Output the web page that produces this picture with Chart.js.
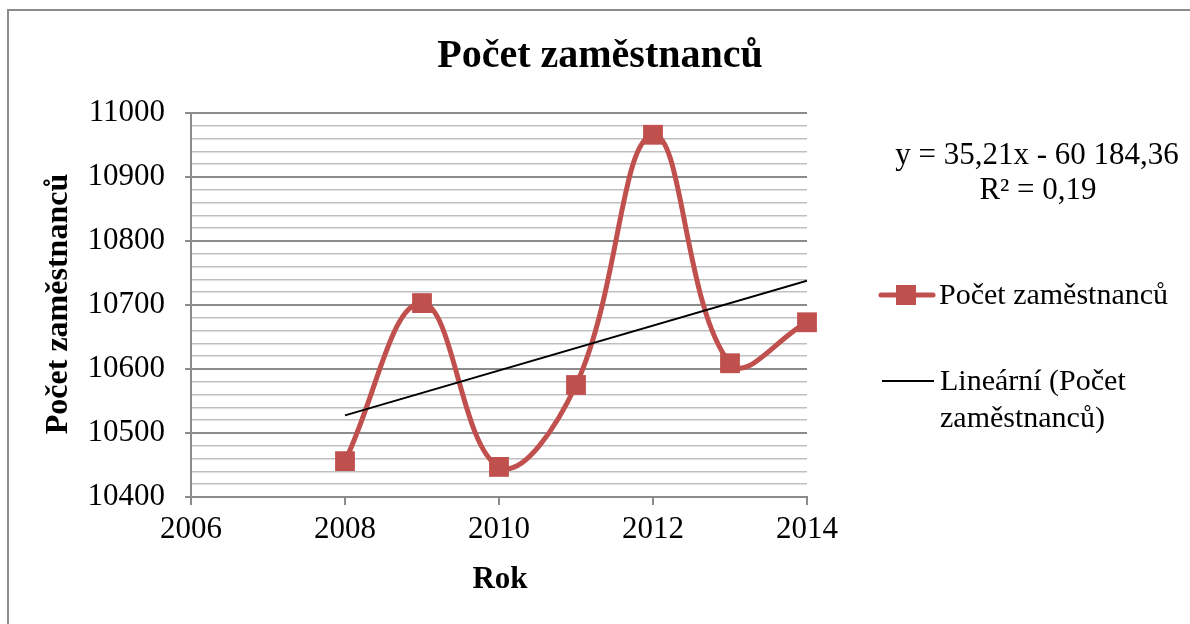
<!DOCTYPE html>
<html>
<head>
<meta charset="utf-8">
<script src="https://cdn.jsdelivr.net/npm/chart.js@4.4.1/dist/chart.umd.min.js"></script>
<style>
  body { margin: 0; background: #fff; }
  #wrap { width: 1190px; height: 624px; }
</style>
</head>
<body>
<div id="wrap"><canvas id="zamChart" width="1190" height="624"></canvas></div>
<script>
// roky a počty zaměstnanců
var years = [2008, 2009, 2010, 2011, 2012, 2013, 2014];
var employees = [10456, 10703, 10447, 10575, 10966, 10609, 10673];
// popisky
var chartTitle = "Počet zaměstnanců";
var yTitle = "Počet zaměstnanců";
var xTitle = "Rok";
var seriesLabel = "Počet zaměstnanců";
var trendLabel = ["Lineární (Počet", "zaměstnanců)"];
var equationText = ["y = 35,21x - 60 184,36", "R² = 0,19"];

var serif = '"Liberation Serif", "Times New Roman", serif';
var red = "#C0504D";
var gridMajor = "#8c8c8c";
var gridMinor = "#bfbfbf";

// lineární trend (metoda nejmenších čtverců)
var n = years.length, sx = 0, sy = 0, sxy = 0, sxx = 0;
for (var i = 0; i < n; i++) {
  sx += years[i]; sy += employees[i];
  sxy += years[i] * employees[i]; sxx += years[i] * years[i];
}
var slope = (n * sxy - sx * sy) / (n * sxx - sx * sx);
var intercept = (sy - slope * sx) / n;
var trendX = [years[0], years[n - 1]];

var seriesData = years.map(function (x, i) { return { x: x, y: employees[i] }; });
var trendData = trendX.map(function (x) { return { x: x, y: slope * x + intercept }; });

// rámeček, titulky a legenda
var decorations = {
  id: "decorations",
  beforeDraw: function (chart) {
    var c = chart.ctx;
    c.save();
    c.strokeStyle = "#8c8c8c";
    c.lineWidth = 2;
    c.strokeRect(8, 10, 1300, 700);
    c.restore();
  },
  afterDraw: function (chart) {
    var c = chart.ctx;
    c.save();
    c.fillStyle = "#000";
    c.textBaseline = "middle";

    c.textAlign = "center";
    c.font = "bold 40px " + serif;
    c.fillText(chartTitle, 600, 57);

    c.font = "bold 31px " + serif;
    c.fillText(xTitle, 500, 580);

    c.save();
    c.translate(59, 304);
    c.rotate(-Math.PI / 2);
    c.font = "bold 32px " + serif;
    c.fillText(yTitle, 0, 0);
    c.restore();

    c.font = "31px " + serif;
    c.fillText(equationText[0], 1037, 156);
    c.fillText(equationText[1], 1038, 191);

    // legenda - řada
    c.strokeStyle = red;
    c.lineWidth = 5;
    c.lineCap = "round";
    c.beginPath(); c.moveTo(881, 295); c.lineTo(933, 295); c.stroke();
    c.fillStyle = red;
    c.fillRect(896, 285, 20, 20);
    c.fillStyle = "#000";
    c.textAlign = "left";
    c.font = "30px " + serif;
    c.fillText(seriesLabel, 939, 296);

    // legenda - trend
    c.strokeStyle = "#000";
    c.lineWidth = 2;
    c.lineCap = "butt";
    c.beginPath(); c.moveTo(882, 381); c.lineTo(934, 381); c.stroke();
    c.fillText(trendLabel[0], 940, 382);
    c.fillText(trendLabel[1], 940, 419);
    c.restore();
  }
};

var ctx = document.getElementById("zamChart");
var zamChart = new Chart(ctx, {
  type: "line",
  data: {
    datasets: [
      {
        label: seriesLabel,
        data: seriesData,
        borderColor: red,
        backgroundColor: red,
        borderWidth: 5,
        tension: 0.4,
        pointStyle: "rect",
        pointRadius: 14,
        pointHoverRadius: 14,
        pointBorderWidth: 0,
        fill: false,
        clip: false,
        order: 2
      },
      {
        label: trendLabel.join(" "),
        data: trendData,
        borderColor: "#000",
        borderWidth: 2,
        pointRadius: 0,
        tension: 0,
        fill: false,
        order: 1
      }
    ]
  },
  options: {
    responsive: false,
    animation: false,
    events: [],
    layout: { padding: { top: 113, right: 383, bottom: 0, left: 0 } },
    plugins: {
      legend: { display: false },
      title: { display: false },
      tooltip: { enabled: false }
    },
    scales: {
      x: {
        type: "linear",
        min: 2006,
        max: 2014,
        afterFit: function (s) { s.height = 127; },
        ticks: {
          stepSize: 2,
          padding: 6,
          color: "#000",
          font: { family: serif, size: 31 },
          callback: function (v) { return String(v); }
        },
        grid: {
          drawOnChartArea: false,
          drawTicks: true,
          tickLength: 8,
          color: gridMajor,
          lineWidth: 2
        },
        border: { color: gridMajor, width: 2 }
      },
      y: {
        min: 10400,
        max: 11000,
        afterFit: function (s) { s.width = 191; },
        ticks: {
          stepSize: 20,
          autoSkip: false,
          padding: 20,
          color: "#000",
          font: { family: serif, size: 31 },
          callback: function (v) { return v % 100 === 0 ? String(v) : ""; }
        },
        grid: {
          tickLength: 6,
          color: function (c) { return c.tick && c.tick.value % 100 === 0 ? gridMajor : gridMinor; },
          tickColor: function (c) { return c.tick && c.tick.value % 100 === 0 ? gridMajor : "rgba(0,0,0,0)"; },
          lineWidth: function (c) { return c.tick && c.tick.value % 100 === 0 ? 2 : 1.5; }
        },
        border: { color: gridMajor, width: 2 }
      }
    }
  },
  plugins: [decorations]
});
</script>
</body>
</html>
